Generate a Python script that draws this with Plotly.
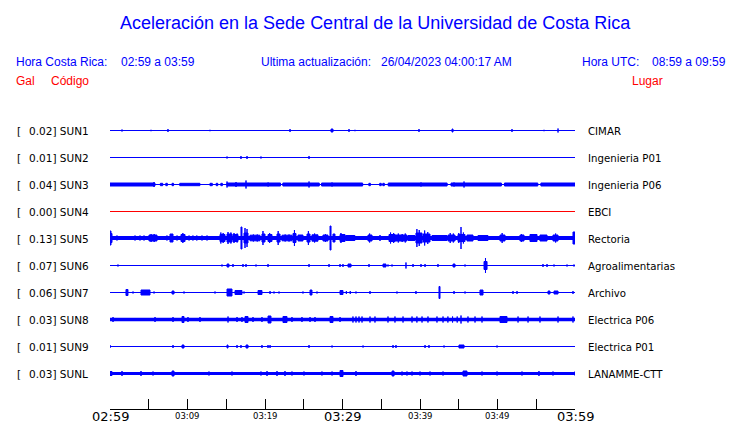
import plotly.graph_objects as go

# ---------------- data ----------------
stations = ["SUN1", "SUN2", "SUN3", "SUN4", "SUN5", "SUN6", "SUN7", "SUN8", "SUN9", "SUNL"]
sites = ["CIMAR", "Ingenieria P01", "Ingenieria P06", "EBCI", "Rectoria",
         "Agroalimentarias", "Archivo", "Electrica P06", "Electrica P01", "LANAMME-CTT"]
peak_gal = [0.02, 0.01, 0.04, 0.00, 0.13, 0.07, 0.06, 0.03, 0.01, 0.03]
# background noise half-amplitude (Gal)
noise_gal = [0.005, 0.005, 0.005, 0.005, 0.02, 0.005, 0.005, 0.017, 0.005, 0.015]

# events: (start minute, end minute, half-amplitude in Gal), minutes after 02:59
SUN1_EVENTS = [(1.55, 1.55, 0.01), (5.29, 5.29, 0.007), (7.48, 7.48, 0.015), (12.9, 12.9, 0.007),
               (23.23, 23.23, 0.015), (28.52, 28.77, 0.015), (30.84, 30.84, 0.015), (31.61, 31.61, 0.007),
               (39.87, 39.87, 0.015), (44.13, 44.26, 0.015), (51.87, 51.87, 0.015), (56.0, 56.0, 0.007),
               (57.81, 57.81, 0.02)]
SUN2_EVENTS = [(15.1, 15.1, 0.01), (16.9, 16.9, 0.015), (17.68, 17.68, 0.015), (19.48, 19.48, 0.01),
               (25.68, 25.68, 0.015)]
SUN3_EVENTS = [(0.0, 5.8, 0.015), (9.0, 11.6, 0.012), (15.1, 22.0, 0.015), (22.3, 27.0, 0.015),
               (27.3, 32.6, 0.015), (35.9, 43.5, 0.015), (44.0, 50.5, 0.015), (50.9, 55.2, 0.015),
               (55.6, 60.0, 0.015), (6.5, 6.8, 0.012), (7.2, 7.4, 0.012), (8.0, 8.2, 0.012),
               (12.9, 13.2, 0.012), (13.7, 13.9, 0.012), (14.3, 14.5, 0.012), (33.4, 33.6, 0.012),
               (34.8, 35.0, 0.012), (35.2, 35.4, 0.012), (5.68, 5.68, 0.025), (15.1, 15.1, 0.03),
               (16.26, 16.26, 0.025), (17.55, 17.55, 0.04), (20.4, 20.4, 0.02), (25.68, 25.68, 0.03),
               (28.65, 28.65, 0.02), (40.13, 40.13, 0.02), (44.39, 44.39, 0.02), (45.68, 45.68, 0.03)]
SUN4_EVENTS = []
SUN5_EVENTS = [(0.0, 0.13, 0.07), (0.13, 0.26, 0.045), (0.9, 0.9, 0.025), (3.23, 3.23, 0.025),
               (3.87, 3.87, 0.025), (4.39, 4.39, 0.025),
               (5.03, 6.06, 0.03), (5.3, 5.3, 0.04), (5.7, 5.7, 0.04),
               (7.35, 7.35, 0.025), (7.74, 8.13, 0.04), (8.65, 8.65, 0.025),
               (9.16, 9.68, 0.035), (9.4, 9.4, 0.05),
               (10.2, 10.2, 0.025), (10.7, 10.7, 0.025), (11.2, 11.2, 0.025), (11.87, 11.87, 0.025),
               (12.52, 12.52, 0.025),
               (14.19, 14.84, 0.035), (14.3, 14.3, 0.055), (14.6, 14.6, 0.05),
               (15.1, 15.74, 0.04), (15.23, 15.23, 0.06), (15.6, 15.6, 0.055),
               (15.87, 16.52, 0.035), (16.0, 16.0, 0.05), (16.4, 16.4, 0.045),
               (16.9, 17.03, 0.11),
               (17.29, 17.81, 0.05), (17.42, 17.42, 0.10), (17.68, 17.68, 0.09),
               (18.06, 19.35, 0.028), (18.5, 18.5, 0.035), (19.0, 19.0, 0.035),
               (19.61, 20.0, 0.04), (19.74, 19.74, 0.07),
               (20.39, 20.9, 0.035), (20.6, 20.6, 0.05),
               (21.55, 21.94, 0.04), (21.7, 21.7, 0.07),
               (22.19, 23.48, 0.028), (22.6, 22.6, 0.035), (23.1, 23.1, 0.035),
               (23.61, 24.0, 0.045), (23.8, 23.8, 0.08),
               (24.26, 24.9, 0.03),
               (25.42, 25.81, 0.04), (25.6, 25.6, 0.07),
               (26.06, 26.84, 0.032), (26.4, 26.4, 0.045),
               (27.48, 28.13, 0.03), (27.8, 27.8, 0.04),
               (28.39, 28.52, 0.12), (28.77, 29.03, 0.04),
               (29.68, 30.32, 0.035), (29.8, 29.8, 0.05),
               (30.4, 31.6, 0.025),
               (33.29, 33.81, 0.03), (33.5, 33.5, 0.045), (34.84, 34.84, 0.03),
               (36.0, 36.77, 0.035), (36.2, 36.2, 0.055), (36.6, 36.6, 0.05),
               (36.77, 38.32, 0.03), (37.2, 37.2, 0.045), (37.7, 37.7, 0.04), (38.1, 38.1, 0.045),
               (38.45, 39.35, 0.025),
               (39.48, 40.26, 0.05), (39.6, 39.6, 0.09), (39.9, 39.9, 0.08),
               (40.39, 41.29, 0.04), (40.6, 40.6, 0.075), (41.0, 41.0, 0.06),
               (41.55, 43.48, 0.025),
               (43.61, 44.52, 0.03), (43.9, 43.9, 0.05), (44.3, 44.3, 0.045),
               (44.9, 45.81, 0.035), (45.0, 45.0, 0.05), (45.29, 45.29, 0.11), (45.6, 45.6, 0.055),
               (46.06, 46.84, 0.03), (47.48, 48.77, 0.025),
               (50.32, 50.97, 0.03), (50.6, 50.6, 0.05),
               (52.9, 53.42, 0.03), (53.1, 53.1, 0.04),
               (54.19, 55.1, 0.035), (55.48, 56.39, 0.03),
               (57.16, 57.81, 0.03), (57.5, 57.5, 0.045),
               (59.74, 60.0, 0.06)]
SUN6_EVENTS = [(1.03, 1.03, 0.01), (14.45, 14.45, 0.01), (15.1, 15.35, 0.015), (15.87, 15.87, 0.015),
               (17.16, 17.16, 0.015), (17.55, 17.55, 0.015), (18.84, 18.84, 0.01), (20.39, 20.39, 0.015),
               (25.68, 25.68, 0.015), (28.26, 28.26, 0.015), (29.68, 29.68, 0.015), (30.06, 30.06, 0.015),
               (30.71, 31.1, 0.015), (33.42, 33.42, 0.015), (35.23, 35.61, 0.015), (35.87, 35.87, 0.01),
               (36.39, 36.39, 0.01), (38.19, 38.19, 0.03), (39.1, 39.1, 0.015), (40.13, 40.13, 0.015),
               (40.65, 40.65, 0.015), (42.32, 42.32, 0.015), (44.26, 44.52, 0.015), (45.81, 45.81, 0.01),
               (48.26, 48.65, 0.04), (48.45, 48.45, 0.075), (55.87, 55.87, 0.015), (56.39, 56.39, 0.015),
               (57.29, 57.29, 0.01), (58.97, 58.97, 0.01), (59.87, 59.87, 0.01)]
SUN7_EVENTS = [(2.06, 2.32, 0.03), (2.97, 2.97, 0.01), (4.0, 5.16, 0.025), (5.68, 5.68, 0.01),
               (8.0, 8.26, 0.015), (9.55, 9.55, 0.01), (13.55, 13.55, 0.01), (15.1, 15.74, 0.035),
               (16.13, 17.03, 0.02), (17.29, 17.29, 0.01), (19.1, 19.61, 0.02), (20.65, 20.65, 0.015),
               (21.16, 21.16, 0.01), (21.81, 21.81, 0.01), (24.9, 24.9, 0.01), (25.81, 26.06, 0.025),
               (26.71, 26.71, 0.01), (29.68, 30.06, 0.02), (30.5, 30.5, 0.015), (31.0, 31.0, 0.015),
               (31.74, 31.74, 0.01), (33.55, 33.55, 0.015), (37.03, 37.03, 0.01), (39.48, 39.48, 0.015),
               (42.45, 42.58, 0.06), (44.39, 44.39, 0.015), (45.81, 45.81, 0.01), (47.74, 48.13, 0.025),
               (52.0, 52.0, 0.015), (52.52, 52.52, 0.015), (56.52, 56.77, 0.015), (57.29, 57.81, 0.015),
               (59.74, 59.74, 0.015)]
SUN8_EVENTS = [(0.39, 0.39, 0.025), (5.81, 5.81, 0.025), (8.13, 8.13, 0.025), (9.29, 9.55, 0.03),
               (10.06, 10.06, 0.025), (11.61, 11.61, 0.025), (15.23, 15.23, 0.03), (16.39, 16.39, 0.025),
               (17.03, 17.03, 0.025), (17.42, 17.81, 0.03), (18.45, 18.45, 0.025), (19.61, 19.61, 0.025),
               (20.39, 20.77, 0.035), (22.32, 22.84, 0.03), (23.48, 23.48, 0.025), (24.77, 24.77, 0.025),
               (25.81, 25.81, 0.025), (26.45, 26.45, 0.025), (28.39, 28.77, 0.03), (29.68, 29.68, 0.025),
               (31.35, 31.35, 0.03), (31.74, 31.74, 0.03), (32.13, 32.13, 0.03), (32.52, 32.52, 0.03),
               (33.55, 33.55, 0.03), (34.19, 34.19, 0.03), (35.87, 35.87, 0.03), (36.77, 36.77, 0.03),
               (37.81, 37.81, 0.03), (38.97, 38.97, 0.03), (39.6, 39.6, 0.03), (40.26, 40.26, 0.03),
               (41.03, 41.03, 0.03), (42.19, 42.19, 0.03), (42.97, 42.97, 0.03), (43.6, 43.6, 0.03),
               (44.2, 44.2, 0.03), (44.8, 44.8, 0.03), (45.29, 45.29, 0.04), (46.19, 46.19, 0.03),
               (47.1, 47.1, 0.03), (48.0, 48.0, 0.03), (50.32, 51.23, 0.03), (52.65, 52.65, 0.03),
               (53.94, 53.94, 0.03), (55.48, 55.48, 0.03), (57.81, 57.81, 0.03), (59.74, 59.74, 0.03)]
SUN9_EVENTS = [(0.0, 0.0, 0.015), (8.13, 8.13, 0.015), (9.29, 9.55, 0.015), (15.1, 15.23, 0.015),
               (16.39, 16.39, 0.015), (16.9, 16.9, 0.015), (17.55, 17.81, 0.015), (19.61, 19.61, 0.015),
               (20.39, 20.39, 0.015), (20.65, 20.65, 0.015), (25.68, 25.68, 0.015), (28.65, 28.65, 0.01),
               (32.65, 32.65, 0.01), (36.52, 36.52, 0.015), (36.9, 36.9, 0.015), (40.65, 40.65, 0.015),
               (41.16, 41.16, 0.015), (43.1, 43.1, 0.01), (45.03, 45.68, 0.015), (49.94, 49.94, 0.01)]
SUNL_EVENTS = [(0.0, 0.26, 0.02), (1.55, 1.55, 0.025), (4.0, 4.0, 0.025), (5.55, 5.55, 0.02),
               (8.0, 8.26, 0.025), (12.77, 12.77, 0.02), (15.74, 15.74, 0.02), (19.48, 19.48, 0.02),
               (20.26, 20.26, 0.025), (21.55, 21.55, 0.025), (22.58, 22.58, 0.025), (23.48, 23.48, 0.02),
               (25.03, 25.03, 0.02), (27.35, 27.35, 0.02), (28.65, 28.65, 0.02), (29.68, 30.06, 0.03),
               (31.74, 31.74, 0.025), (36.39, 36.65, 0.025), (37.68, 37.68, 0.02), (38.32, 38.32, 0.02),
               (38.97, 38.97, 0.02), (40.0, 40.0, 0.02), (41.29, 41.29, 0.02), (42.97, 42.97, 0.02),
               (45.55, 46.06, 0.025), (48.0, 48.0, 0.02), (49.94, 49.94, 0.02), (53.16, 53.16, 0.02),
               (55.35, 55.35, 0.025), (57.16, 57.16, 0.02), (60.0, 60.0, 0.02)]

tick_minutes = [0, 5, 10, 15, 20, 25, 30, 35, 40, 45, 50, 55, 60]
label_minutes = [0, 10, 20, 30, 40, 50, 60]
label_texts = ["02:59", "03:09", "03:19", "03:29", "03:39", "03:49", "03:59"]
big_tick_labels = ["02:59", "03:29", "03:59"]

title_text = "Aceleración en la Sede Central de la Universidad de Costa Rica"

# ---------------- layout geometry ----------------
OFF = 8                              # page body margin in the browser
W, H = 740 - OFF, 423 - OFF
PL, PR, PB = 110 - OFF, 575 - OFF, 409 - OFF   # plot area in figure pixels (top at 0)
SLOT = 27                            # px between traces
FIRST = 130 - OFF                    # px of first baseline
GAL_PER_PX = 0.01
K = 1.0 / (GAL_PER_PX * SLOT)        # Gal -> y units
BLUE = "#0000ff"
RED = "#ff0000"
TEXT_DY = 1                          # visual centring correction for annotations


def xp(px):
    return (px - OFF - PL) / (PR - PL)


def yp(py):
    return (PB - (py + TEXT_DY - OFF)) / PB


all_events = [SUN1_EVENTS, SUN2_EVENTS, SUN3_EVENTS, SUN4_EVENTS, SUN5_EVENTS,
              SUN6_EVENTS, SUN7_EVENTS, SUN8_EVENTS, SUN9_EVENTS, SUNL_EVENTS]

fig = go.Figure()
annotations = []
for i, st in enumerate(stations):
    color = RED if st == "SUN4" else BLUE
    lw = max(1.0, 2 * noise_gal[i] / GAL_PER_PX)
    if st == "SUN3":
        lw = 1.0
    # half-pixel shift for odd-width lines so they render crisply
    crisp = 0.5 if round(lw) % 2 == 1 else 0.0
    base = (PB - (FIRST + SLOT * i + crisp)) / SLOT
    fig.add_trace(go.Scatter(x=[0, 60], y=[base, base], mode="lines",
                             line=dict(color=color, width=lw), hoverinfo="skip"))
    ev = all_events[i]
    if ev:
        xs, ys = [], []
        for t0, t1, a in ev:
            lo, hi = base - a * K, base + a * K
            xs += [t0, t0, t1, t1, t0, None]
            ys += [lo, hi, hi, lo, lo, None]
        fig.add_trace(go.Scatter(x=xs, y=ys, mode="lines", fill="toself", fillcolor=color,
                                 line=dict(color=color, width=1), hoverinfo="skip"))
    py = 130 + SLOT * i
    annotations.append(dict(text="[", x=xp(15), y=yp(py), xref="paper", yref="paper",
                            xanchor="left", yanchor="middle", showarrow=False,
                            font=dict(family="DejaVu Sans", size=10.5, color="black")))
    annotations.append(dict(text=f"{peak_gal[i]:.2f}] {st}", x=xp(27), y=yp(py), xref="paper", yref="paper",
                            xanchor="left", yanchor="middle", showarrow=False,
                            font=dict(family="DejaVu Sans", size=10.5, color="black")))
    annotations.append(dict(text=sites[i], x=xp(586), y=yp(py), xref="paper", yref="paper",
                            xanchor="left", yanchor="middle", showarrow=False,
                            font=dict(family="DejaVu Sans", size=10.2, color="black")))


def hdr(text, px, py, color, size=12, anchor="left"):
    annotations.append(dict(text=text, x=xp(px), y=yp(py), xref="paper", yref="paper",
                            xanchor=anchor, yanchor="middle", showarrow=False,
                            font=dict(family="Liberation Sans", size=size, color=color)))


hdr(title_text, 375, 22, BLUE, size=18, anchor="center")
hdr("Hora Costa Rica:", 14, 61, BLUE)
hdr("02:59 a 03:59", 119, 61, BLUE)
hdr("Ultima actualización:", 259, 61, BLUE)
hdr("26/04/2023 04:00:17 AM", 379, 61, BLUE)
hdr("Hora UTC:", 580, 61, BLUE)
hdr("08:59 a 09:59", 650, 61, BLUE)
hdr("Gal", 14, 80, RED)
hdr("Código", 49, 80, RED)
hdr("Lugar", 630, 80, RED)

# time labels under the axis, placed at their tick values on the x scale
for t, lab in zip(label_minutes, label_texts):
    big = lab in big_tick_labels
    annotations.append(dict(text=lab, x=t, xref="x", y=yp(415.5 if big else 414.5), yref="paper",
                            xanchor="center", yanchor="middle", showarrow=False,
                            font=dict(family="DejaVu Sans", size=13 if big else 8.5, color="black")))

fig.update_layout(
    width=W, height=H, autosize=False,
    margin=dict(l=PL, r=W - PR, t=0, b=H - PB, pad=0),
    paper_bgcolor="white", plot_bgcolor="white",
    showlegend=False,
    annotations=annotations,
    xaxis=dict(range=[0, 60], showgrid=False, zeroline=False, showline=True, automargin=False,
               linecolor="black", linewidth=1, ticks="inside", ticklen=10, tickwidth=1,
               tickcolor="black", tickmode="array", tickvals=tick_minutes, showticklabels=False,
               fixedrange=True),
    yaxis=dict(range=[0, PB / SLOT], visible=False, fixedrange=True, automargin=False),
)

fig.write_html("out.html")
